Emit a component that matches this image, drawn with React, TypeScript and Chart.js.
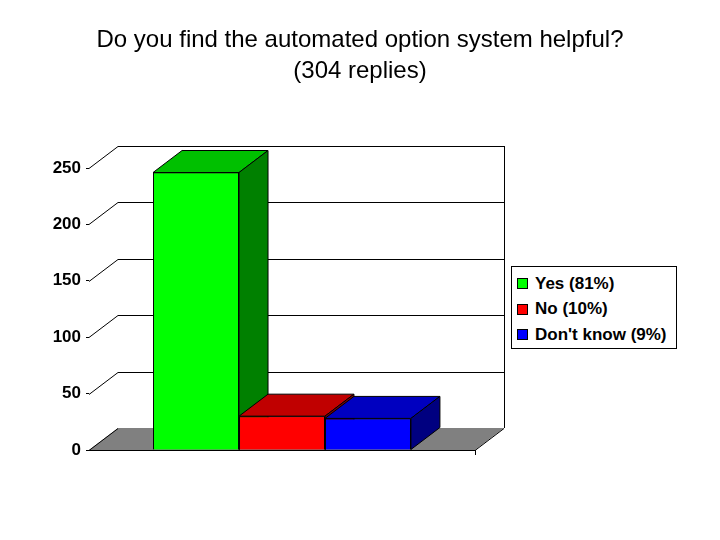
import { useEffect, useRef } from "react";
import { Chart, registerables } from "chart.js";

Chart.register(...registerables);

const CATEGORIES = [""];
const SERIES_LABELS = ["Yes (81%)", "No (10%)", "Don't know (9%)"];
const SERIES_VALUES = [246, 30, 28];
const Y_TICKS = [0, 50, 100, 150, 200, 250];
const TITLE_LINES = ["Do you find the automated option system helpful?", "(304 replies)"];

const FRONT = ["#00ff00", "#ff0000", "#0000ff"];
const TOP = ["#00c000", "#c00000", "#0000c0"];
const SIDE = ["#008000", "#800000", "#000080"];
const FONT = "'Liberation Sans', Arial, sans-serif";
const DX = 29;
const DY = -22;

// draws the floor / back wall and the extra faces of the 3-D columns
const box3d = {
  id: "box3d",
  beforeDatasetsDraw(chart: any) {
    const { ctx, chartArea: a, scales } = chart;
    const y = scales.y;
    const y0 = y.getPixelForValue(0);
    ctx.save();
    ctx.lineWidth = 1;
    ctx.strokeStyle = "#000";
    // floor
    ctx.fillStyle = "#808080";
    ctx.beginPath();
    ctx.moveTo(a.left, y0);
    ctx.lineTo(a.right, y0);
    ctx.lineTo(a.right + DX, y0 + DY);
    ctx.lineTo(a.left + DX, y0 + DY);
    ctx.closePath();
    ctx.fill();
    ctx.beginPath();
    ctx.moveTo(a.left, y0 + 0.5);
    ctx.lineTo(a.right, y0 + 0.5);
    ctx.lineTo(a.right + DX, y0 + DY + 0.5);
    ctx.moveTo(a.right + 0.5, y0);
    ctx.lineTo(a.right + 0.5, y0 + 5);
    ctx.stroke();
    // grid on the back wall
    ctx.beginPath();
    Y_TICKS.forEach(v => {
      const py = Math.round(y.getPixelForValue(v)) + 0.5;
      ctx.moveTo(a.left, py);
      ctx.lineTo(a.left + DX, py + DY);
      if (v !== 0) ctx.lineTo(a.right + DX, py + DY);
    });
    const top = Math.round(y.getPixelForValue(Y_TICKS[Y_TICKS.length - 1])) + DY;
    ctx.moveTo(a.right + DX + 0.5, top);
    ctx.lineTo(a.right + DX + 0.5, y0 + DY);
    ctx.stroke();
    ctx.restore();
  },
  afterDatasetsDraw(chart: any) {
    const { ctx } = chart;
    ctx.save();
    ctx.lineWidth = 1;
    ctx.strokeStyle = "#000";
    chart.data.datasets.forEach((_: any, i: number) => {
      const el = chart.getDatasetMeta(i).data[0];
      if (!el) return;
      const { x, y, base, width } = el.getProps(["x", "y", "base", "width"], true);
      const l = x - width / 2;
      const r = x + width / 2;
      el.draw(ctx);
      ctx.fillStyle = TOP[i];
      ctx.beginPath();
      ctx.moveTo(l, y);
      ctx.lineTo(r, y);
      ctx.lineTo(r + DX, y + DY);
      ctx.lineTo(l + DX, y + DY);
      ctx.closePath();
      ctx.fill();
      ctx.stroke();
      ctx.fillStyle = SIDE[i];
      ctx.beginPath();
      ctx.moveTo(r, y);
      ctx.lineTo(r + DX, y + DY);
      ctx.lineTo(r + DX, base + DY);
      ctx.lineTo(r, base);
      ctx.closePath();
      ctx.fill();
      ctx.stroke();
    });
    ctx.restore();
  },
};

export default function App() {
  const canvasRef = useRef<HTMLCanvasElement>(null);
  const chartRef = useRef<Chart | null>(null);

  useEffect(() => {
    if (!canvasRef.current) return;
    if (chartRef.current) chartRef.current.destroy();

    chartRef.current = new Chart(canvasRef.current, {
      type: "bar",
      data: {
        labels: CATEGORIES,
        datasets: SERIES_LABELS.map((label, i) => ({
          label,
          data: [SERIES_VALUES[i]],
          backgroundColor: FRONT[i],
          borderColor: "#000",
          borderWidth: 1,
          categoryPercentage: 0.668,
          barPercentage: 1,
        })),
      },
      options: {
        responsive: false,
        animation: false,
        layout: { padding: { left: 0, right: 245, bottom: 90, top: 168 } },
        plugins: {
          legend: { display: false },
          tooltip: { enabled: false },
          title: { display: false },
        },
        scales: {
          x: { display: false },
          y: {
            min: 0,
            max: 250,
            afterFit: (s: any) => { s.width = 89; },
            afterBuildTicks: (s: any) => { s.ticks = Y_TICKS.map(v => ({ value: v })); },
            border: { display: false },
            grid: { drawOnChartArea: false, drawTicks: true, tickLength: 3, color: "#000" },
            ticks: {
              color: "#000",
              padding: 5,
              font: { family: FONT, size: 17, weight: "bold" },
            },
          },
        },
      },
      plugins: [box3d],
    });

    return () => { chartRef.current?.destroy(); };
  }, []);

  return (
    <div style={{ position: "fixed", left: 0, top: 0, width: 720, height: 540, background: "#fff" }}>
      <canvas ref={canvasRef} width={720} height={540} style={{ display: "block" }} />
      <div
        style={{
          position: "absolute", left: 0, top: 23, width: 720, textAlign: "center",
          fontFamily: FONT, fontSize: 24, lineHeight: "31px", color: "#000",
        }}
      >
        {TITLE_LINES.map(line => <div key={line}>{line}</div>)}
      </div>
      <div
        style={{
          position: "absolute", left: 511, top: 266, width: 164, height: 77,
          border: "1px solid #000", background: "#fff",
          fontFamily: FONT, fontWeight: "bold", fontSize: 17, color: "#000",
          paddingTop: 4, boxSizing: "content-box",
        }}
      >
        {SERIES_LABELS.map((label, i) => (
          <div key={label} style={{ display: "flex", alignItems: "center", height: 25.5, paddingLeft: 5 }}>
            <span style={{ width: 9, height: 9, border: "1px solid #000", background: FRONT[i], marginRight: 7 }} />
            <span>{label}</span>
          </div>
        ))}
      </div>
    </div>
  );
}
